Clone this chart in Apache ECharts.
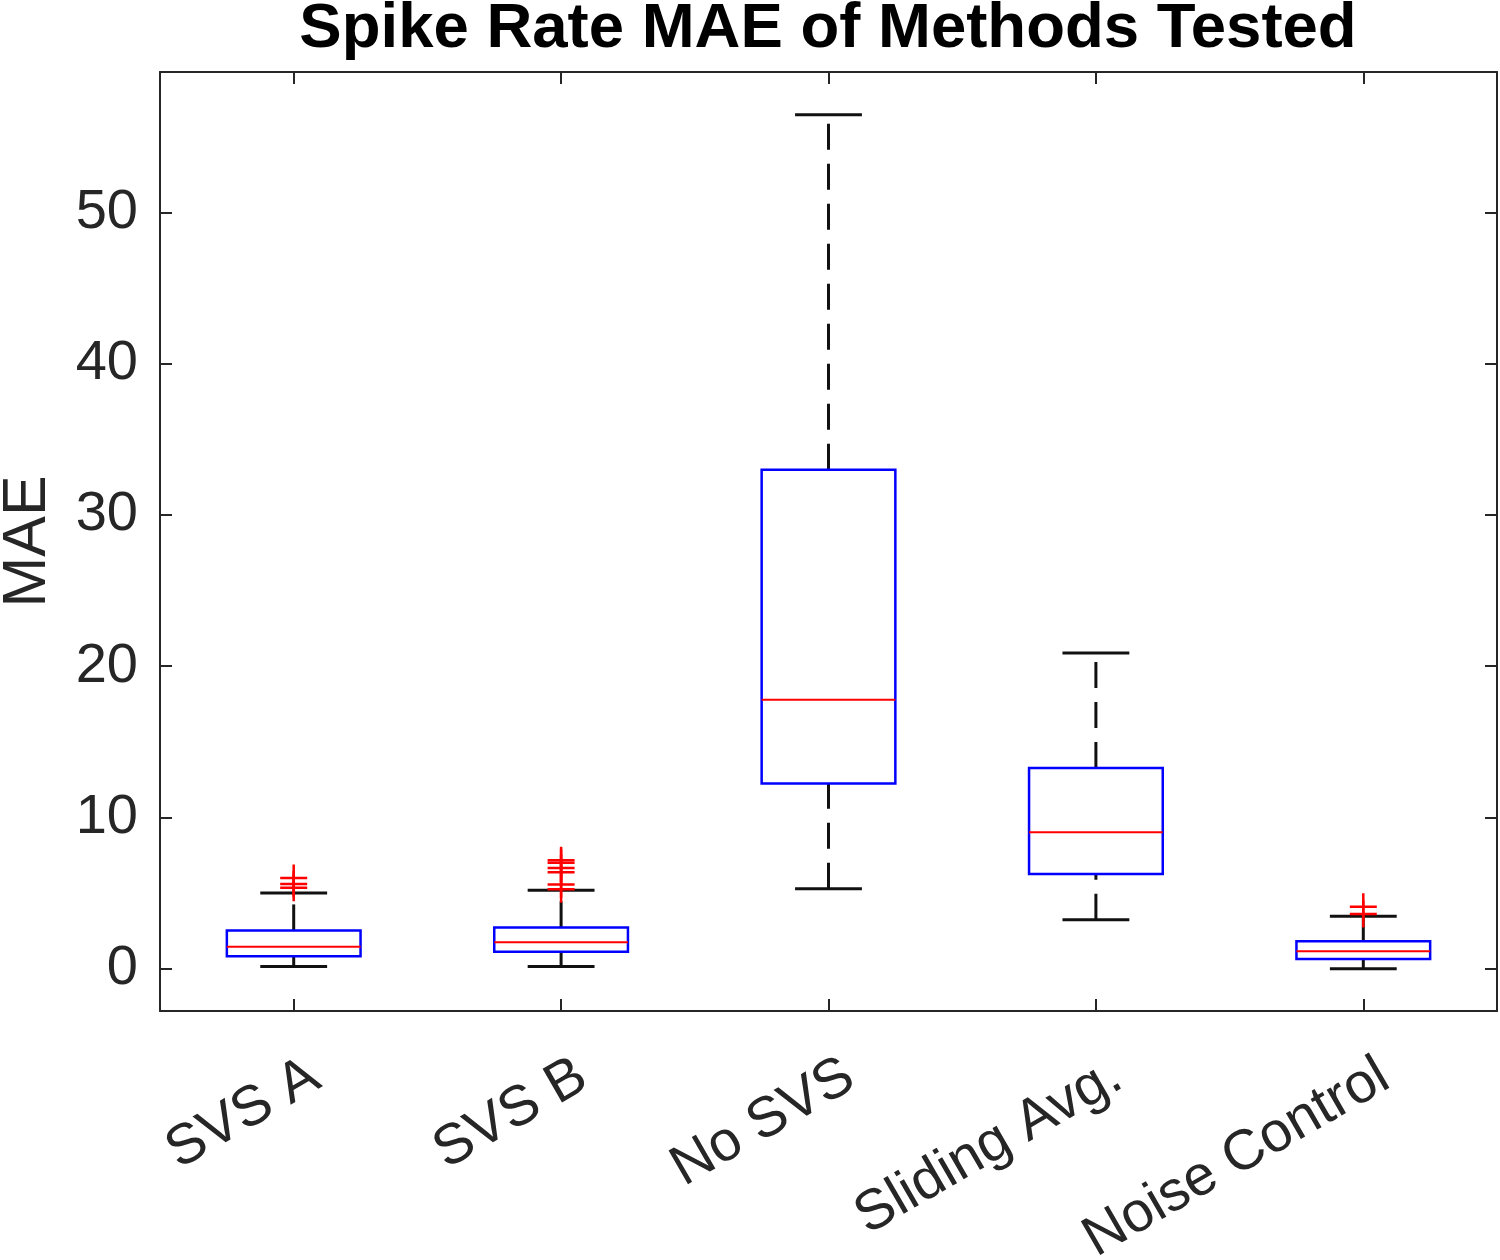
<!DOCTYPE html>
<html><head><meta charset="utf-8">
<script src="https://cdn.jsdelivr.net/npm/echarts@6/dist/echarts.min.js"></script>
<style>html,body{margin:0;padding:0;background:#fff}#c{width:1500px;height:1260px}</style>
</head><body><div id="c"></div>
<script>
const categories = ['SVS A', 'SVS B', 'No SVS', 'Sliding Avg.', 'Noise Control'];
const whiskerLow  = [0.15, 0.15, 5.29, 3.24, 0.0];
const q1          = [0.82, 1.12, 12.24, 6.26, 0.64];
const median      = [1.45, 1.74, 17.79, 9.02, 1.15];
const q3          = [2.53, 2.73, 33.0, 13.27, 1.81];
const whiskerHigh = [5.0, 5.18, 56.48, 20.88, 3.46];
const outliersSVSA = [6.0, 5.6, 5.35];
const outliersSVSB = [7.17, 7.0, 6.66, 6.37, 5.56, 5.25];
const outliersNoSVS = [];
const outliersSliding = [];
const outliersNoise = [4.1, 3.62];
const yTicks = [0, 10, 20, 30, 40, 50];

const boxData = categories.map((c, i) => [i, whiskerLow[i], q1[i], median[i], q3[i], whiskerHigh[i]]);
const outlierData = [];
[outliersSVSA, outliersSVSB, outliersNoSVS, outliersSliding, outliersNoise].forEach((arr, i) => {
  arr.forEach(v => outlierData.push([i, v]));
});

const AX = '#262626';
const FONT = '"Liberation Sans", Arial, sans-serif';
const chart = echarts.init(document.getElementById('c'), null, {renderer: 'canvas'});

const tickStyle = {show: true, inside: true, length: 12, lineStyle: {color: AX, width: 2}};
const lineStyle = {show: true, onZero: false, lineStyle: {color: AX, width: 2}};

chart.setOption({
  animation: false,
  backgroundColor: '#fff',
  title: {
    text: 'Spike Rate MAE of Methods Tested',
    left: 828, top: -3, textAlign: 'center', padding: 0,
    textStyle: {fontSize: 63.5, fontWeight: 'bold', color: '#000', fontFamily: FONT}
  },
  grid: {left: 160, right: 3, top: 72, bottom: 249, containLabel: false, outerBoundsMode: 'none'},
  xAxis: [{
    type: 'category', data: categories, position: 'bottom', boundaryGap: true,
    axisLine: lineStyle,
    axisTick: Object.assign({alignWithLabel: true}, tickStyle),
    axisLabel: {rotate: 30, fontSize: 56.5, color: AX, margin: 74, padding: [0, -25, 0, 0], fontFamily: FONT, interval: 0},
    splitLine: {show: false}
  }, {
    type: 'category', data: categories, position: 'top', boundaryGap: true,
    axisLine: lineStyle,
    axisTick: Object.assign({alignWithLabel: true}, tickStyle),
    axisLabel: {show: false}, splitLine: {show: false}
  }],
  yAxis: [{
    type: 'value', min: -2.8, max: 59.3, minInterval: 10, maxInterval: 10, position: 'left',
    name: 'MAE', nameLocation: 'middle', nameGap: 101,
    nameTextStyle: {fontSize: 61, color: AX, fontFamily: FONT},
    axisLine: lineStyle,
    axisTick: tickStyle,
    axisLabel: {fontSize: 56, color: AX, margin: 22, fontFamily: FONT, showMinLabel: false, showMaxLabel: false,
      formatter: v => (yTicks.indexOf(Math.round(v * 1000) / 1000) >= 0 ? String(Math.round(v)) : '')},
    splitLine: {show: false}
  }, {
    type: 'value', min: -2.8, max: 59.3, minInterval: 10, maxInterval: 10, position: 'right',
    axisLine: lineStyle,
    axisTick: tickStyle,
    axisLabel: {show: false}, splitLine: {show: false}
  }],
  series: [{
    type: 'custom',
    xAxisIndex: 0, yAxisIndex: 0,
    data: boxData,
    encode: {x: 0, y: [1, 2, 3, 4, 5]},
    z: 3,
    renderItem: function (params, api) {
      const i = api.value(0);
      const pLo = api.coord([i, api.value(1)]);
      const pQ1 = api.coord([i, api.value(2)]);
      const pMed = api.coord([i, api.value(3)]);
      const pQ3 = api.coord([i, api.value(4)]);
      const pHi = api.coord([i, api.value(5)]);
      const band = api.size([1, 0])[0];
      const x = pLo[0];
      const bw = band * 0.5, cw = band * 0.25;
      const wStyle = {stroke: '#111', lineWidth: 3, lineDash: [26, 14]};
      const cStyle = {stroke: '#111', lineWidth: 3};
      return {
        type: 'group',
        children: [
          {type: 'line', shape: {x1: x, y1: pLo[1], x2: x, y2: pQ1[1]}, style: wStyle},
          {type: 'line', shape: {x1: x, y1: pQ3[1], x2: x, y2: pHi[1]}, style: wStyle},
          {type: 'line', shape: {x1: x - cw / 2, y1: pLo[1], x2: x + cw / 2, y2: pLo[1]}, style: cStyle},
          {type: 'line', shape: {x1: x - cw / 2, y1: pHi[1], x2: x + cw / 2, y2: pHi[1]}, style: cStyle},
          {type: 'rect', shape: {x: x - bw / 2, y: pQ3[1], width: bw, height: pQ1[1] - pQ3[1]},
            style: {fill: 'none', stroke: '#0000ff', lineWidth: 2.5}},
          {type: 'line', shape: {x1: x - bw / 2, y1: pMed[1], x2: x + bw / 2, y2: pMed[1]},
            style: {stroke: '#ff0000', lineWidth: 2}}
        ]
      };
    }
  }, {
    type: 'scatter',
    xAxisIndex: 0, yAxisIndex: 0,
    data: outlierData,
    z: 5,
    symbol: 'path://M0,-1L0,1M-1,0L1,0',
    symbolSize: 27,
    itemStyle: {color: 'rgba(0,0,0,0)', borderColor: '#ff0000', borderWidth: 2.5, opacity: 1}
  }]
});
</script>
</body></html>
